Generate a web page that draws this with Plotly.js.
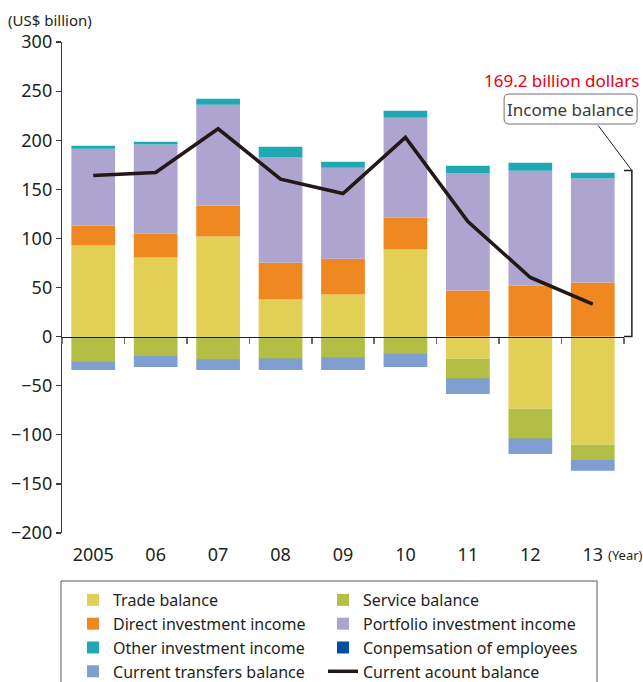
<!DOCTYPE html>
<html>
<head>
<meta charset="utf-8">
<script src="https://cdn.plot.ly/plotly-3.0.1.min.js"></script>
<style>
  html, body { margin: 0; padding: 0; background: #fff; overflow: hidden; }
  #chart { width: 643px; height: 682px; }
</style>
</head>
<body>
<div id="chart"></div>
<script>
// ---- data (US$ billion) ----
const years = ['2005', '06', '07', '08', '09', '10', '11', '12', '13'];
const tradeBalance = [92.8, 80.6, 102.0, 37.8, 42.9, 88.7, -22.6, -73.5, -110.2];
const serviceBalance = [-25.3, -19.2, -23.6, -22.6, -21.6, -17.2, -20.4, -30.5, -14.9];
const directInvestmentIncome = [20.3, 24.4, 31.5, 37.4, 36.3, 32.6, 47.0, 52.0, 55.1];
const portfolioInvestmentIncome = [78.1, 90.7, 102.5, 107.2, 92.7, 101.5, 119.1, 116.8, 105.9];
const otherInvestmentIncome = [3.1, 2.7, 6.2, 10.9, 6.1, 7.2, 7.8, 8.2, 5.8];
const compensationOfEmployees = [-0.2, -0.2, -0.2, -0.2, -0.2, -0.2, -0.2, -0.2, -0.2];
const currentTransfersBalance = [-8.5, -11.6, -10.2, -11.2, -12.2, -13.6, -15.3, -15.3, -11.2];
const currentAccountBalance = [164.1, 167.1, 211.6, 160.4, 145.7, 202.8, 117.2, 60.2, 33.0];
const incomeBalance2013 = 169.2;

const FONT = '"Noto Sans", "DejaVu Sans", sans-serif';
const TXT = '#231f20';

function barTrace(name, y, color, legend) {
  return { type: 'bar', name: name, x: years, y: y, legend: legend,
           marker: { color: color, line: { width: 0 } }, hoverinfo: 'skip' };
}

const traces = [
  barTrace('Trade balance', tradeBalance, '#e2cf55', 'legend'),
  barTrace('Service balance', serviceBalance, '#b3bf44', 'legend2'),
  barTrace('Direct investment income', directInvestmentIncome, '#ef8820', 'legend'),
  barTrace('Portfolio investment income', portfolioInvestmentIncome, '#ada4cf', 'legend2'),
  barTrace('Other investment income', otherInvestmentIncome, '#1fa9b5', 'legend'),
  barTrace('Conpemsation of employees', compensationOfEmployees, '#004ea2', 'legend2'),
  barTrace('Current transfers balance', currentTransfersBalance, '#7f9fd3', 'legend'),
  { type: 'scatter', mode: 'lines', name: 'Current acount balance', x: years, legend: 'legend2',
    y: currentAccountBalance, line: { color: '#231815', width: 3.5 }, hoverinfo: 'skip' }
];

const legendBase = {
  orientation: 'v', xanchor: 'left', y: -0.1018, yanchor: 'top',
  borderwidth: 0, bgcolor: 'rgba(0,0,0,0)', traceorder: 'normal',
  font: { size: 16, color: TXT }
};

const layout = {
  width: 643, height: 682,
  margin: { l: 62, r: 19, t: 42, b: 149, autoexpand: false },
  paper_bgcolor: '#fff', plot_bgcolor: '#fff',
  font: { family: FONT, color: TXT, size: 16 },
  barmode: 'relative',
  bargap: 0.3,
  showlegend: true,
  xaxis: {
    type: 'category', range: [-0.5, 8.5],
    showgrid: false, zeroline: false, showline: false, ticks: '',
    tickfont: { size: 18, color: TXT }, ticklabelstandoff: 9
  },
  xaxis2: {
    overlaying: 'x', anchor: 'free', position: 0.4, side: 'bottom',
    range: [-0.5, 8.5], showgrid: false, zeroline: false,
    showline: true, linecolor: '#231f20', linewidth: 1.5,
    ticks: 'outside', ticklen: 6, tickcolor: '#6e6b6b', tickwidth: 1.5,
    tick0: 0.5, dtick: 1, showticklabels: false
  },
  yaxis: {
    range: [-200, 300], dtick: 50, showgrid: false, zeroline: false,
    showline: true, linecolor: '#3e3a39', linewidth: 1.2,
    ticks: 'outside', ticklen: 5, tickcolor: '#3e3a39', tickwidth: 1.2,
    tickfont: { size: 18, color: TXT }
  },
  legend: Object.assign({}, legendBase, { x: 0.0196 }),
  legend2: Object.assign({}, legendBase, { x: 0.4644 }),
  shapes: [
    // legend frame
    { type: 'rect', xref: 'paper', yref: 'paper', x0: -0.0018, x1: 0.952, y0: -0.0978, y1: -0.32,
      line: { color: '#595757', width: 1 }, fillcolor: 'rgba(0,0,0,0)', layer: 'below' },
    // bracket for income balance (2013)
    { type: 'path', xref: 'paper', yref: 'y',
      path: 'M 1,' + incomeBalance2013 + ' L 1.014,' + incomeBalance2013 + ' L 1.014,0 L 1,0',
      line: { color: '#231f20', width: 1.5 } },
    // leader line
    { type: 'line', xref: 'paper', yref: 'y', x0: 0.954, y0: 215, x1: 1.014, y1: incomeBalance2013,
      line: { color: '#231f20', width: 1 } },
    // rounded box
    { type: 'path', xref: 'paper', yref: 'paper', xsizemode: 'pixel', ysizemode: 'pixel',
      xanchor: 0.905, yanchor: 0.8635,
      path: 'M -61.5,15 L 61.5,15 Q 66.5,15 66.5,10 L 66.5,-10 Q 66.5,-15 61.5,-15 L -61.5,-15 Q -66.5,-15 -66.5,-10 L -66.5,10 Q -66.5,15 -61.5,15 Z',
      line: { color: '#727171', width: 1 }, fillcolor: '#fff' }
  ],
  annotations: [
    { xref: 'paper', yref: 'paper', x: -0.0996, y: 1.045, xanchor: 'left', yanchor: 'middle',
      text: '(US$ billion)', showarrow: false, font: { size: 15, color: TXT } },
    { xref: 'paper', yref: 'paper', x: 1.030, y: 0.9206, xanchor: 'right', yanchor: 'middle',
      text: incomeBalance2013.toFixed(1) + ' billion dollars', showarrow: false,
      font: { size: 17, color: '#e60012' } },
    { xref: 'paper', yref: 'paper', x: 0.905, y: 0.8635, xanchor: 'center', yanchor: 'middle',
      text: 'Income balance', showarrow: false, font: { size: 17, color: '#3e3a39' } },
    { xref: 'paper', yref: 'paper', x: 0.968, y: -0.0448, xanchor: 'left', yanchor: 'middle',
      text: '(Year)', showarrow: false, font: { size: 13, color: TXT } }
  ]
};

// invisible helper trace so the zero-line axis (xaxis2) is drawn
traces.push({ type: 'scatter', x: [0], y: [0], xaxis: 'x2', mode: 'markers',
              marker: { opacity: 0 }, showlegend: false, hoverinfo: 'skip' });

Plotly.newPlot('chart', traces, layout, { displayModeBar: false, staticPlot: true });
</script>
</body>
</html>
